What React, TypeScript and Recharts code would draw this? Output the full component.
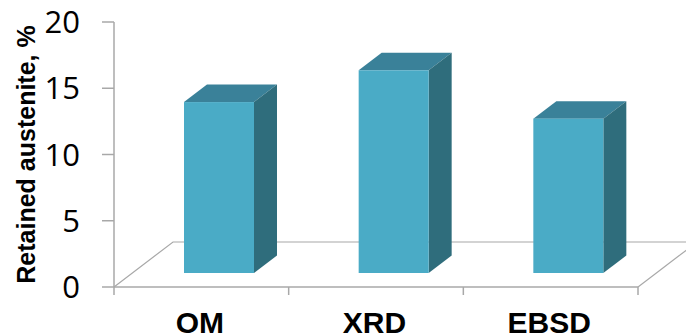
import { BarChart, Bar, XAxis, YAxis } from 'recharts';

const categories = ['OM', 'XRD', 'EBSD'];
const retained = [12.9, 15.3, 11.65];
const valueTicks = [0, 5, 10, 15, 20];

const data = categories.map((name, i) => ({ name, retained: retained[i] }));

const WIDTH = 686;
const HEIGHT = 335;
const MARGIN = { top: 22, right: 48, bottom: 0, left: 0 };
const AXIS_LEFT = 114;
const AXIS_BOTTOM = 287;
const AXIS_RIGHT = WIDTH - MARGIN.right;
const BAND = (AXIS_RIGHT - AXIS_LEFT) / categories.length;
const GRAY = '#a8a8a8';

// fake perspective: the floor recedes up and to the right, bars stand partway back on it
const FLOOR_DX = 59;
const FLOOR_DY = 45;
const BAR_SHIFT_X = 18;
const BAR_SHIFT_Y = 14;
const DEPTH_X = 23;
const DEPTH_Y = 17.5;

const Box = (props: any) => {
  const { x, y, width, height } = props;
  const left = x + BAR_SHIFT_X;
  const right = left + width;
  const top = y - BAR_SHIFT_Y;
  const bottom = top + height;
  return (
    <g>
      <polygon
        points={`${left},${top} ${left + DEPTH_X},${top - DEPTH_Y} ${right + DEPTH_X},${top - DEPTH_Y} ${right},${top}`}
        fill="#3a8199"
      />
      <polygon
        points={`${right},${top} ${right + DEPTH_X},${top - DEPTH_Y} ${right + DEPTH_X},${bottom - DEPTH_Y} ${right},${bottom}`}
        fill="#2f6d7c"
      />
      <rect x={left} y={top} width={width} height={height} fill="#4aabc6" />
    </g>
  );
};

// category ticks sit on the band edges, not the band centres
const CategoryTick = (props: any) => {
  const { x, payload, index } = props;
  const edge = x - BAND / 2;
  return (
    <g>
      <line x1={edge} x2={edge} y1={AXIS_BOTTOM} y2={AXIS_BOTTOM + 8} stroke={GRAY} strokeWidth={1.5} />
      {index === categories.length - 1 && (
        <line x1={edge + BAND} x2={edge + BAND} y1={AXIS_BOTTOM} y2={AXIS_BOTTOM + 8} stroke={GRAY} strokeWidth={1.5} />
      )}
      <text
        x={x - 1.5}
        y={333}
        textAnchor="middle"
        fontFamily="Liberation Sans"
        fontWeight="bold"
        fontSize={30}
        fill="#000"
      >
        {payload.value}
      </text>
    </g>
  );
};

export default function App() {
  return (
    <div style={{ position: 'absolute', left: 0, top: 0, background: '#fff' }}>
      <BarChart width={WIDTH} height={HEIGHT} data={data} margin={MARGIN} barSize={70}>
        <g fill="none" stroke={GRAY} strokeWidth={1.2}>
          <polyline
            points={`${AXIS_LEFT},${AXIS_BOTTOM} ${AXIS_LEFT + FLOOR_DX},${AXIS_BOTTOM - FLOOR_DY} ${WIDTH},${AXIS_BOTTOM - FLOOR_DY}`}
          />
          <line
            x1={AXIS_RIGHT}
            y1={AXIS_BOTTOM}
            x2={AXIS_RIGHT + FLOOR_DX}
            y2={AXIS_BOTTOM - FLOOR_DY}
          />
        </g>
        <XAxis
          dataKey="name"
          height={48}
          tickLine={false}
          interval={0}
          tick={<CategoryTick />}
          axisLine={{ stroke: GRAY, strokeWidth: 1.5 }}
        />
        <YAxis
          width={AXIS_LEFT}
          domain={[0, 20]}
          ticks={valueTicks}
          tickSize={12}
          tickMargin={22}
          tickLine={{ stroke: GRAY, strokeWidth: 1.5 }}
          axisLine={{ stroke: GRAY, strokeWidth: 1.5 }}
          tick={{ fontFamily: 'Open Sans', fontSize: 31, fill: '#000' }}
          label={{
            value: 'Retained austenite, %',
            angle: -90,
            position: 'insideLeft',
            offset: 26,
            style: {
              fontFamily: 'Liberation Sans',
              fontWeight: 'bold',
              fontSize: 25,
              fill: '#000',
              textAnchor: 'middle',
            },
          }}
        />
        <Bar dataKey="retained" shape={<Box />} isAnimationActive={false} />
      </BarChart>
    </div>
  );
}
